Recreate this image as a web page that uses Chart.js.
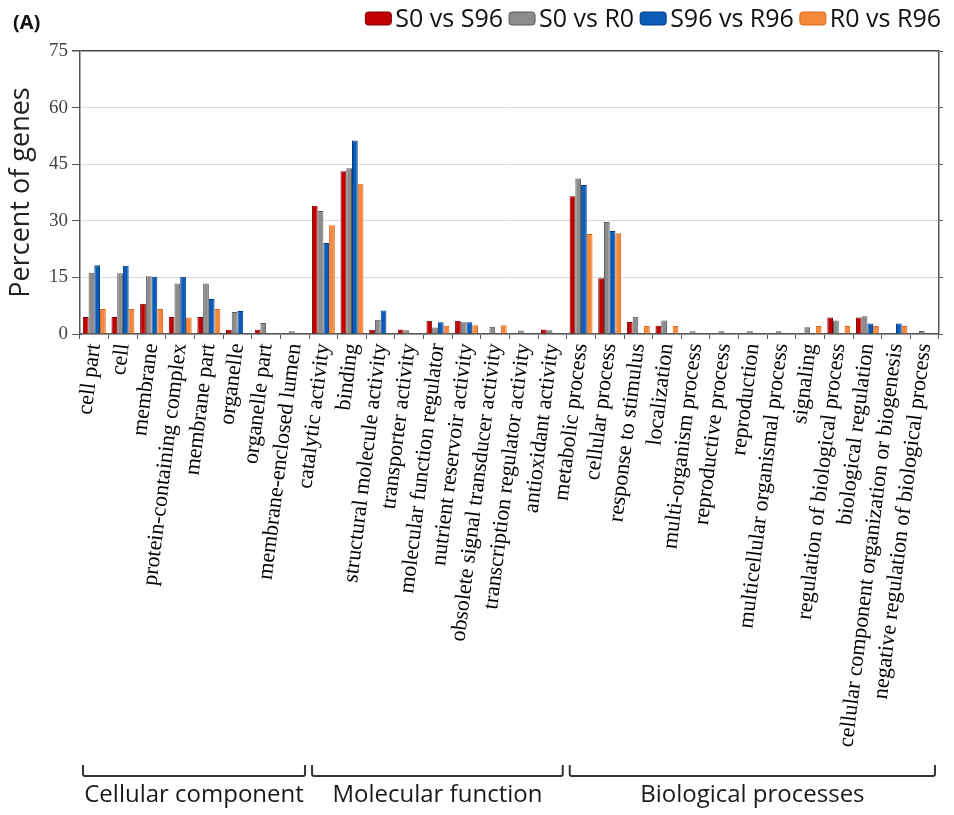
<!DOCTYPE html>
<html><head><meta charset="utf-8">
<script src="https://cdn.jsdelivr.net/npm/chart.js@4.4.0/dist/chart.umd.min.js"></script>
<style>html,body{margin:0;padding:0;background:#fff;} #wrap{width:954px;height:815px;position:relative;}</style>
</head><body><div id="wrap"><canvas id="c" width="954" height="815"></canvas></div>
<script>
const categories = ['cell part','cell','membrane','protein-containing complex','membrane part','organelle','organelle part','membrane-enclosed lumen',
  'catalytic activity','binding','structural molecule activity','transporter activity','molecular function regulator','nutrient reservoir activity','obsolete signal transducer activity','transcription regulator activity','antioxidant activity',
  'metabolic process','cellular process','response to stimulus','localization','multi-organism process','reproductive process','reproduction','multicellular organismal process','signaling','regulation of biological process','biological regulation','cellular component organization or biogenesis','negative regulation of biological process'];
const seriesNames = ['S0 vs S96','S0 vs R0','S96 vs R96','R0 vs R96'];
const s0VsS96 = [4.5,4.5,8.0,4.5,4.5,1.1,1.1,0, 34.0,43.1,1.1,1.2,3.5,3.5,0,0,1.2, 36.5,14.8,3.2,2.2,0,0,0,0,0,4.4,4.4,0,0];
const s0VsR0  = [16.2,16.1,15.3,13.4,13.4,5.8,2.9,0.7, 32.6,43.9,3.8,1.0,1.7,3.1,1.9,0.9,1.0, 41.2,29.7,4.6,3.6,0.7,0.7,0.7,0.7,1.8,3.6,4.7,0,0.8];
const s96VsR96 = [18.2,18.1,15.2,15.2,9.3,6.1,0,0, 24.1,51.3,6.2,0,3.1,3.1,0,0,0, 39.5,27.3,0,0,0,0,0,0,0,0,2.8,2.8,0];
const r0VsR96 = [6.6,6.6,6.6,4.4,6.6,0,0,0, 28.8,39.8,0,0,2.2,2.3,2.3,0,0, 26.5,26.7,2.1,2.1,0,0,0,0,2.1,2.1,2.1,2.1,0];
const yTicks = [0,15,30,45,60,75];
const groupNames = ['Cellular component','Molecular function','Biological processes'];
const groupSizes = [8,9,13];
const yTitle = 'Percent of genes';
const panelLabel = '(A)';

const fills = ['#C00000','#8C8C8C','#0B5CB8','#F5883A'];
const edges = ['#7E0000','#5A5A5A','#003C82','#D9681A'];

function roundRect(ctx,x,y,w,h,r){ctx.beginPath();ctx.moveTo(x+r,y);ctx.lineTo(x+w-r,y);ctx.quadraticCurveTo(x+w,y,x+w,y+r);ctx.lineTo(x+w,y+h-r);ctx.quadraticCurveTo(x+w,y+h,x+w-r,y+h);ctx.lineTo(x+r,y+h);ctx.quadraticCurveTo(x,y+h,x,y+h-r);ctx.lineTo(x,y+r);ctx.quadraticCurveTo(x,y,x+r,y);ctx.closePath();}

const decor = {
  id:'decor',
  afterDraw(chart){
    const ctx = chart.ctx, xs = chart.scales.x;
    ctx.save();
    ctx.fillStyle='#111'; ctx.textAlign='left'; ctx.textBaseline='middle';
    ctx.font='bold 20px "Open Sans"';
    ctx.fillText(panelLabel, 13, 23);
    // legend
    ctx.font='25px "Open Sans"';
    const ds = chart.data.datasets;
    const widths = ds.map(d=>ctx.measureText(d.label).width);
    const boxW=26, boxH=13, g1=4, g2=6;
    const total = widths.reduce((a,b)=>a+b,0)+ds.length*(boxW+g1)+(ds.length-1)*g2;
    let cx = 941-total;
    ds.forEach((d,i)=>{
      ctx.fillStyle=d.backgroundColor; ctx.strokeStyle=d.borderColor; ctx.lineWidth=1;
      roundRect(ctx,cx,12,boxW,boxH,3); ctx.fill(); ctx.stroke();
      cx+=boxW+g1;
      ctx.fillStyle='#111'; ctx.fillText(d.label,cx,20);
      cx+=widths[i]+g2;
    });
    // group brackets
    const step = xs.getPixelForValue(1)-xs.getPixelForValue(0);
    let s=0;
    ctx.strokeStyle='#333'; ctx.lineWidth=2; ctx.lineJoin='round';
    ctx.font='24px "Open Sans"'; ctx.textAlign='center'; ctx.textBaseline='alphabetic';
    groupSizes.forEach((n,g)=>{
      const x1 = xs.getPixelForValue(s)-step/2+3;
      const x2 = xs.getPixelForValue(s+n-1)+step/2-4;
      ctx.beginPath();
      ctx.moveTo(x1,765); ctx.lineTo(x1,774); ctx.quadraticCurveTo(x1,776,x1+2,776);
      ctx.lineTo(x2-2,776); ctx.quadraticCurveTo(x2,776,x2,774); ctx.lineTo(x2,765);
      ctx.stroke();
      ctx.fillStyle='#1a1a1a';
      ctx.fillText(groupNames[g],(x1+x2)/2,802);
      s+=n;
    });
    ctx.restore();
  }
};

const series = [s0VsS96,s0VsR0,s96VsR96,r0VsR96];
new Chart(document.getElementById('c'),{
  type:'bar',
  data:{labels:categories,datasets:series.map((d,i)=>({label:seriesNames[i],data:d,backgroundColor:fills[i],borderColor:edges[i],borderWidth:1,categoryPercentage:0.8,barPercentage:1.0}))},
  options:{
    responsive:false, animation:false,
    layout:{padding:{top:51,left:0,right:0,bottom:0}},
    plugins:{legend:{display:false},tooltip:{enabled:false}},
    scales:{
      x:{
        grid:{display:true,drawOnChartArea:false,offset:true,tickLength:5,tickColor:'#555',color:'#555'},
        border:{color:'#555',width:1.5},
        ticks:{autoSkip:false,minRotation:83,maxRotation:83,padding:3,color:'#000',font:{family:'"Liberation Serif"',size:22}},
        afterFit(sc){sc.height=815-334;}
      },
      y:{
        min:0,max:75,
        afterBuildTicks(sc){sc.ticks=yTicks.map(v=>({value:v}));},
        grid:{color:(c)=>c.tick&&c.tick.value===75?'#444':'#DCDCDC',lineWidth:(c)=>c.tick&&c.tick.value===75?1.5:1,tickColor:'#555',tickLength:8},
        border:{color:'#555',width:1.5},
        ticks:{padding:4,color:'#444',font:{family:'"Liberation Serif"',size:19}},
        title:{display:true,text:yTitle,color:'#222',font:{family:'"Open Sans"',size:27},padding:{top:5,bottom:0}},
        afterFit(sc){sc.width=80;}
      },
      y2:{
        position:'right',min:0,max:75,
        afterBuildTicks(sc){sc.ticks=yTicks.map(v=>({value:v}));},
        grid:{drawOnChartArea:false,tickLength:4,tickColor:'#555'},
        border:{color:'#555',width:1.5},
        ticks:{display:false},
        afterFit(sc){sc.width=9;}
      }
    }
  },
  plugins:[decor]
});
</script></body></html>
